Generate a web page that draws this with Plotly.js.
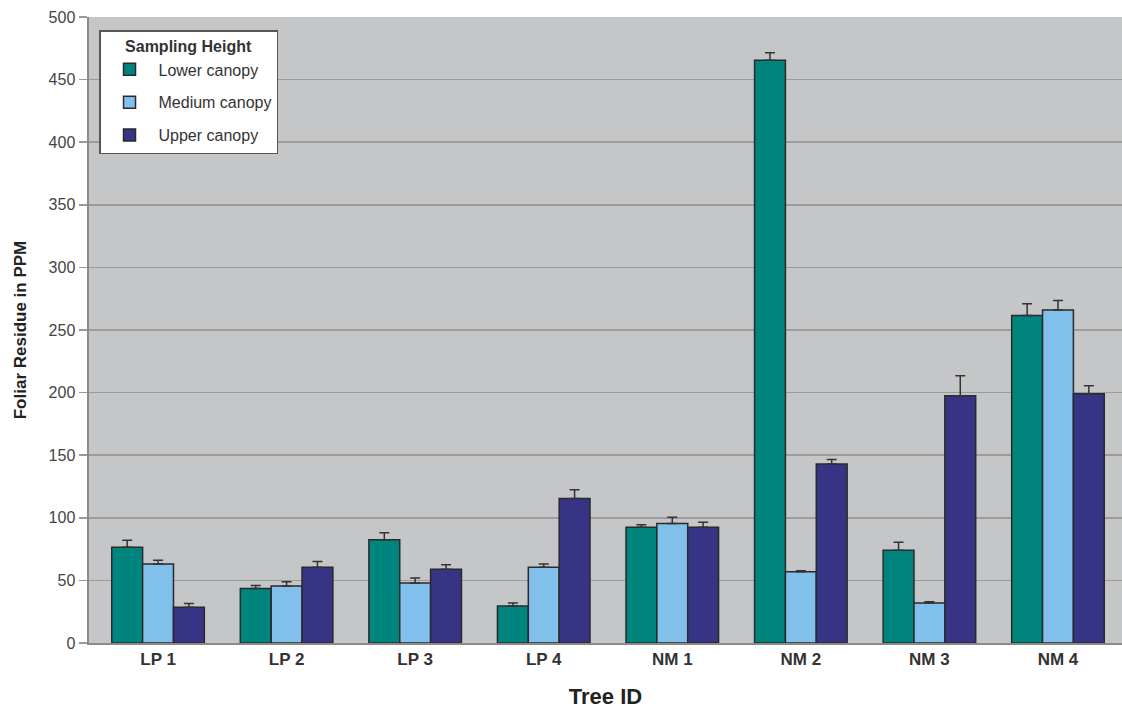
<!DOCTYPE html>
<html>
<head>
<meta charset="utf-8">
<script src="https://cdn.plot.ly/plotly-3.0.1.min.js"></script>
<style>html,body{margin:0;padding:0;background:#fff;}#chart{width:1122px;height:713px;}</style>
</head>
<body>
<div id="chart"></div>
<script>
const treeIds = ["LP 1", "LP 2", "LP 3", "LP 4", "NM 1", "NM 2", "NM 3", "NM 4"];
const seriesNames = ["Lower canopy", "Medium canopy", "Upper canopy"];
const lowerCanopy = [76.5, 43.5, 82.5, 29.5, 92.5, 465.5, 74, 261.5];
const lowerErr = [5.5, 2.5, 5.5, 2.5, 2, 6, 6.5, 9.5];
const mediumCanopy = [63, 45.5, 48, 60.5, 95.5, 57, 32, 266];
const mediumErr = [3, 3.5, 4, 2.5, 5, 0.7, 1, 7.5];
const upperCanopy = [28.5, 60.5, 59, 115.5, 92.5, 143, 197.5, 199];
const upperErr = [3, 4.5, 3.5, 7, 4, 3.5, 16, 6.5];
const yTicks = [0, 50, 100, 150, 200, 250, 300, 350, 400, 450, 500];

const colors = ["#00857e", "#82c0ec", "#373486"];
const values = [lowerCanopy, mediumCanopy, upperCanopy];
const errs = [lowerErr, mediumErr, upperErr];

const traces = seriesNames.map((name, i) => ({
  type: "bar",
  name: name,
  x: treeIds,
  y: values[i],
  legendgroup: "g" + i,
  marker: { color: colors[i], line: { color: "#2a2a2a", width: 1.5 } },
  error_y: {
    type: "data",
    symmetric: false,
    array: errs[i],
    arrayminus: errs[i].map(() => 0),
    color: "#333333",
    thickness: 1.5,
    width: 5
  },
  hoverinfo: "x+y+name"
}));

const layout = {
  width: 1122,
  height: 713,
  margin: { l: 89, r: 0, t: 17, b: 70, pad: 0 },
  paper_bgcolor: "#ffffff",
  plot_bgcolor: "#c5c6c8",
  font: { family: "Liberation Sans, Arial, sans-serif", color: "#333333", size: 16 },
  barmode: "group",
  bargap: 0.28,
  bargroupgap: 0,
  showlegend: true,
  legend: {
    x: 0.0097, y: 0.979, xanchor: "left", yanchor: "top",
    bgcolor: "#ffffff",
    bordercolor: "#555555",
    borderwidth: 1.5,
    traceorder: "grouped",
    tracegroupgap: 9,
    itemwidth: 48,
    entrywidth: 150,
    entrywidthmode: "pixels",
    font: { size: 16, color: "#333333" },
    title: { text: "<b>Sampling Height</b>", side: "top center", font: { size: 16, color: "#333333" } }
  },
  xaxis: {
    type: "category",
    categoryarray: treeIds,
    range: [-0.537, 7.498],
    showgrid: false,
    showline: true,
    linecolor: "#8a8a8a",
    linewidth: 2,
    ticks: "",
    tickfont: { size: 17, color: "#333333", family: "Liberation Sans, Arial, sans-serif", weight: "bold" },
    title: { text: "<b>Tree ID</b>", font: { size: 22, color: "#222222" }, standoff: 20 },
    fixedrange: true
  },
  yaxis: {
    range: [0, 500],
    tickvals: yTicks,
    ticktext: yTicks.map(String),
    showgrid: true,
    gridcolor: "#9c9c9c",
    gridwidth: 1.5,
    zeroline: false,
    showline: true,
    linecolor: "#8a8a8a",
    linewidth: 2.5,
    ticks: "outside",
    ticklen: 8,
    tickcolor: "#9a9a9a",
    tickwidth: 1.5,
    tickfont: { size: 16, color: "#444444" },
    title: { text: "<b>Foliar Residue in PPM</b>", font: { size: 17, color: "#222222" }, standoff: 18 },
    fixedrange: true
  }
};

Plotly.newPlot("chart", traces, layout, { displayModeBar: false, staticPlot: true });
</script>
</body>
</html>
